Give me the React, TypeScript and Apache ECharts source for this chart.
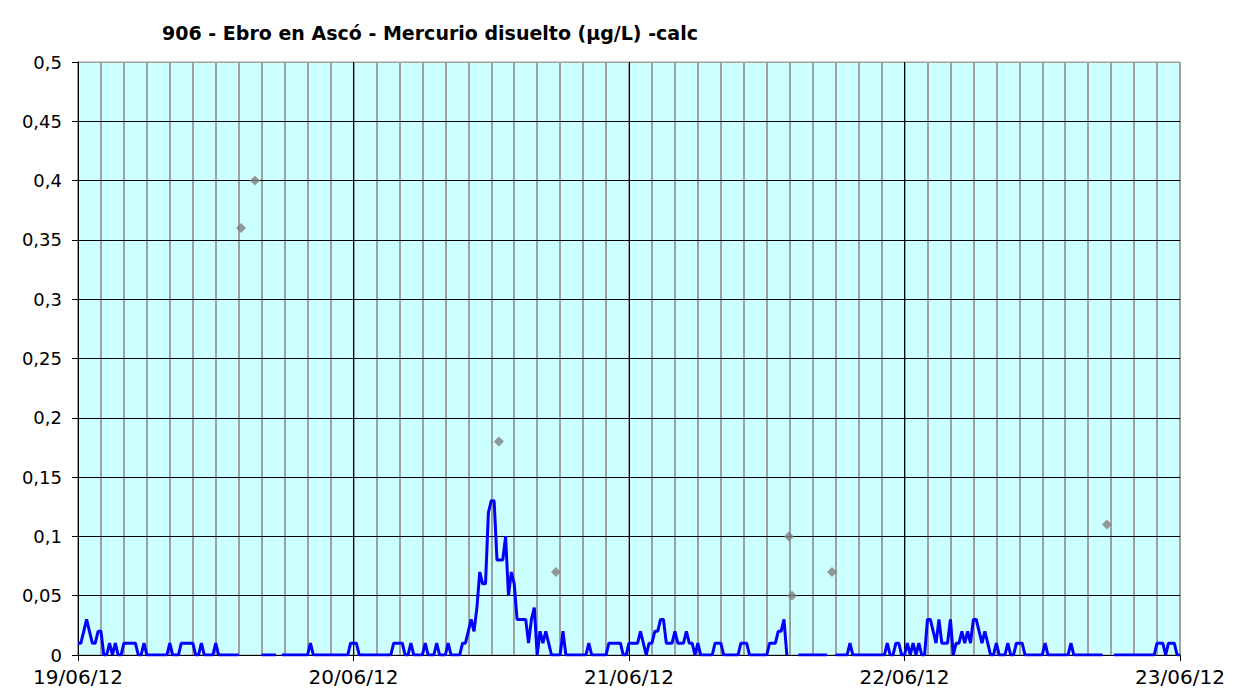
import React, { useEffect, useRef } from "react";
import * as echarts from "echarts";

const chartTitle = "906 - Ebro en Ascó - Mercurio disuelto (µg/L) -calc";

const days = ["2012-06-19", "2012-06-20", "2012-06-21", "2012-06-22"];

// online analyser readings (µg/L), null = no data
const online19: [string, number | null][] = [
  ["00:00", 0.01], ["00:15", 0.01], ["00:30", 0.02], ["00:45", 0.03], ["01:00", 0.02], ["01:15", 0.01],
  ["01:30", 0.01], ["01:45", 0.02], ["02:00", 0.02], ["02:15", 0], ["02:30", 0], ["02:45", 0.01],
  ["03:00", 0], ["03:15", 0.01], ["03:30", 0], ["03:45", 0], ["04:00", 0.01], ["05:00", 0.01],
  ["05:15", 0], ["05:30", 0], ["05:45", 0.01], ["06:00", 0], ["07:45", 0], ["08:00", 0.01],
  ["08:15", 0], ["08:45", 0], ["09:00", 0.01], ["10:00", 0.01], ["10:15", 0], ["10:30", 0],
  ["10:45", 0.01], ["11:00", 0], ["11:45", 0], ["12:00", 0.01], ["12:15", 0], ["14:00", 0],
  ["14:15", null], ["16:00", 0], ["17:15", 0], ["17:30", null], ["17:45", 0], ["20:00", 0],
  ["20:15", 0.01], ["20:30", 0], ["23:30", 0], ["23:45", 0.01],
];
const online20: [string, number | null][] = [
  ["00:00", 0.01], ["00:15", 0.01], ["00:30", 0], ["03:15", 0], ["03:30", 0.01], ["04:15", 0.01],
  ["04:30", 0], ["04:45", 0], ["05:00", 0.01], ["05:15", 0], ["06:00", 0], ["06:15", 0.01],
  ["06:30", 0], ["07:00", 0], ["07:15", 0.01], ["07:30", 0], ["08:00", 0], ["08:15", 0.01],
  ["08:30", 0], ["09:15", 0], ["09:30", 0.01], ["09:45", 0.01], ["10:00", 0.02], ["10:15", 0.03],
  ["10:30", 0.02], ["10:45", 0.04], ["11:00", 0.07], ["11:15", 0.06], ["11:30", 0.06], ["11:45", 0.12],
  ["12:00", 0.13], ["12:15", 0.13], ["12:30", 0.08], ["12:45", 0.08], ["13:00", 0.08], ["13:15", 0.1],
  ["13:30", 0.05], ["13:45", 0.07], ["14:00", 0.06], ["14:15", 0.03], ["15:00", 0.03], ["15:15", 0.01],
  ["15:30", 0.03], ["15:45", 0.04], ["16:00", 0], ["16:15", 0.02], ["16:30", 0.01], ["16:45", 0.02],
  ["17:00", 0.01], ["17:15", 0], ["18:00", 0], ["18:15", 0.02], ["18:30", 0], ["20:15", 0],
  ["20:30", 0.01], ["20:45", 0], ["22:00", 0], ["22:15", 0.01], ["23:15", 0.01], ["23:30", 0],
  ["23:45", 0],
];
const online21: [string, number | null][] = [
  ["00:00", 0.01], ["00:45", 0.01], ["01:00", 0.02], ["01:15", 0.01], ["01:30", 0], ["01:45", 0.01],
  ["02:00", 0.01], ["02:15", 0.02], ["02:30", 0.02], ["02:45", 0.03], ["03:00", 0.03], ["03:15", 0.01],
  ["03:45", 0.01], ["04:00", 0.02], ["04:15", 0.01], ["04:45", 0.01], ["05:00", 0.02], ["05:15", 0.01],
  ["05:30", 0.01], ["05:45", 0], ["06:00", 0.01], ["06:15", 0], ["07:15", 0], ["07:30", 0.01],
  ["08:00", 0.01], ["08:15", 0], ["09:30", 0], ["09:45", 0.01], ["10:15", 0.01], ["10:30", 0],
  ["12:00", 0], ["12:15", 0.01], ["12:45", 0.01], ["13:00", 0.02], ["13:15", 0.02], ["13:30", 0.03],
  ["13:45", 0], ["14:00", null], ["14:45", 0], ["17:15", 0], ["17:30", null], ["18:00", 0],
  ["19:00", 0], ["19:15", 0.01], ["19:30", 0], ["22:15", 0], ["22:30", 0.01], ["22:45", 0],
  ["23:00", 0], ["23:15", 0.01], ["23:30", 0.01], ["23:45", 0],
];
const online22: [string, number | null][] = [
  ["00:00", 0], ["00:15", 0.01], ["00:30", 0], ["00:45", 0.01], ["01:00", 0], ["01:15", 0.01],
  ["01:30", 0], ["01:45", 0], ["02:00", 0.03], ["02:15", 0.03], ["02:30", 0.02], ["02:45", 0.01],
  ["03:00", 0.03], ["03:15", 0.01], ["03:45", 0.01], ["04:00", 0.03], ["04:15", 0], ["04:30", 0.01],
  ["04:45", 0.01], ["05:00", 0.02], ["05:15", 0.01], ["05:30", 0.02], ["05:45", 0.01], ["06:00", 0.03],
  ["06:15", 0.03], ["06:30", 0.02], ["06:45", 0.01], ["07:00", 0.02], ["07:15", 0.01], ["07:30", 0],
  ["07:45", 0], ["08:00", 0.01], ["08:15", 0], ["08:45", 0], ["09:00", 0.01], ["09:15", 0],
  ["09:30", 0], ["09:45", 0.01], ["10:15", 0.01], ["10:30", 0], ["12:00", 0], ["12:15", 0.01],
  ["12:30", 0], ["14:15", 0], ["14:30", 0.01], ["14:45", 0], ["17:15", 0], ["17:30", null],
  ["18:15", 0], ["21:45", 0], ["22:00", 0.01], ["22:30", 0.01], ["22:45", 0], ["23:00", 0.01],
  ["23:30", 0.01], ["23:45", 0], ["24:00", 0],
];

// laboratory samples
const labSamples: [string, number][] = [
  ["2012-06-19 14:12", 0.36],
  ["2012-06-19 15:25", 0.4],
  ["2012-06-20 12:40", 0.18],
  ["2012-06-20 17:38", 0.07],
  ["2012-06-21 13:56", 0.1],
  ["2012-06-21 14:12", 0.05],
  ["2012-06-21 17:41", 0.07],
  ["2012-06-22 17:38", 0.11],
];

const yMin = 0;
const yMax = 0.5;
const yStep = 0.05;

function toTs(date: string, hm: string): number {
  const [y, m, d] = date.split("-").map(Number);
  const [h, mi] = hm.split(":").map(Number);
  return Date.UTC(y, m - 1, d, h, mi);
}

const T0 = Date.UTC(2012, 5, 19);
const T1 = Date.UTC(2012, 5, 23);
const DAY = 86400000;
const TWO_H = 7200000;

const FONT = "DejaVu Sans";

export default function App() {
  const ref = useRef<HTMLDivElement>(null);
  useEffect(() => {
    if (!ref.current) return;
    const chart = echarts.init(ref.current, undefined, { renderer: "svg" });
    const dayData = [online19, online20, online21, online22];
    const lineData: [number, number | null][] = [];
    dayData.forEach((arr, i) => {
      arr.forEach(([hm, v]) => lineData.push([toTs(days[i], hm), v]));
    });
    const scatterData = labSamples.map(([s, v]) => {
      const [d, hm] = s.split(" ");
      return [toTs(d, hm), v];
    });
    const pad = (n: number) => (n < 10 ? "0" + n : "" + n);
    chart.setOption({
      animation: false,
      backgroundColor: "#ffffff",
      graphic: [
        {
          type: "text",
          x: 430,
          y: 33,
          style: {
            text: chartTitle,
            fontFamily: FONT,
            fontSize: 19,
            fontWeight: "bold",
            fill: "#000",
            textAlign: "center",
            textVerticalAlign: "middle",
          },
        },
      ],
      grid: {
        left: 78,
        right: 68,
        top: 62,
        bottom: 43,
        show: true,
        backgroundColor: "#ccffff",
        borderColor: "#a0a0a0",
        borderWidth: 1,
      },
      xAxis: [
        {
          type: "value",
          min: T0,
          max: T1,
          interval: TWO_H,
          position: "top",
          z: 0,
          axisLine: { show: false },
          axisTick: { show: false },
          axisLabel: { show: false },
          splitLine: { show: true, lineStyle: { color: "#a0a0a0", width: 2 } },
        },
        {
          type: "value",
          min: T0,
          max: T1,
          interval: DAY,
          position: "bottom",
          z: 1,
          axisLine: { show: true, onZero: false, lineStyle: { color: "#000", width: 1 } },
          axisTick: { show: true, length: 6, lineStyle: { color: "#000" } },
          axisLabel: {
            fontFamily: FONT,
            fontSize: 20,
            color: "#000",
            margin: 12,
            formatter: (v: number) => {
              const d = new Date(v);
              return pad(d.getUTCDate()) + "/" + pad(d.getUTCMonth() + 1) + "/" + pad(d.getUTCFullYear() % 100);
            },
          },
          splitLine: {
            show: true,
            lineStyle: { color: ["#000", "#000", "#000", "#000", "#a0a0a0"], width: 1 },
          },
        },
      ],
      yAxis: {
        type: "value",
        min: yMin,
        max: yMax,
        interval: yStep,
        z: 1,
        axisLine: { show: true, lineStyle: { color: "#000", width: 1 } },
        axisTick: { show: true, length: 6, lineStyle: { color: "#000" } },
        axisLabel: {
          fontFamily: FONT,
          fontSize: 18,
          color: "#000",
          margin: 16,
          formatter: (v: number) => {
            if (Math.abs(v) < 1e-9) return "0";
            return v.toFixed(2).replace(/0$/, "").replace(".", ",");
          },
        },
        splitLine: {
          show: true,
          lineStyle: {
            color: ["#000", "#000", "#000", "#000", "#000", "#000", "#000", "#000", "#000", "#000", "#a0a0a0"],
            width: 1,
          },
        },
      },
      series: [
        {
          type: "line",
          xAxisIndex: 1,
          data: lineData,
          showSymbol: false,
          connectNulls: false,
          lineStyle: { color: "#0000ff", width: 3 },
          itemStyle: { color: "#0000ff" },
          z: 3,
        },
        {
          type: "scatter",
          xAxisIndex: 1,
          data: scatterData,
          symbol: "diamond",
          symbolSize: 10,
          itemStyle: { color: "#808080" },
          z: 4,
        },
      ],
    });
    return () => chart.dispose();
  }, []);
  return (
    <div
      ref={ref}
      style={{ position: "absolute", left: 0, top: 0, width: 1248, height: 698 }}
    />
  );
}
